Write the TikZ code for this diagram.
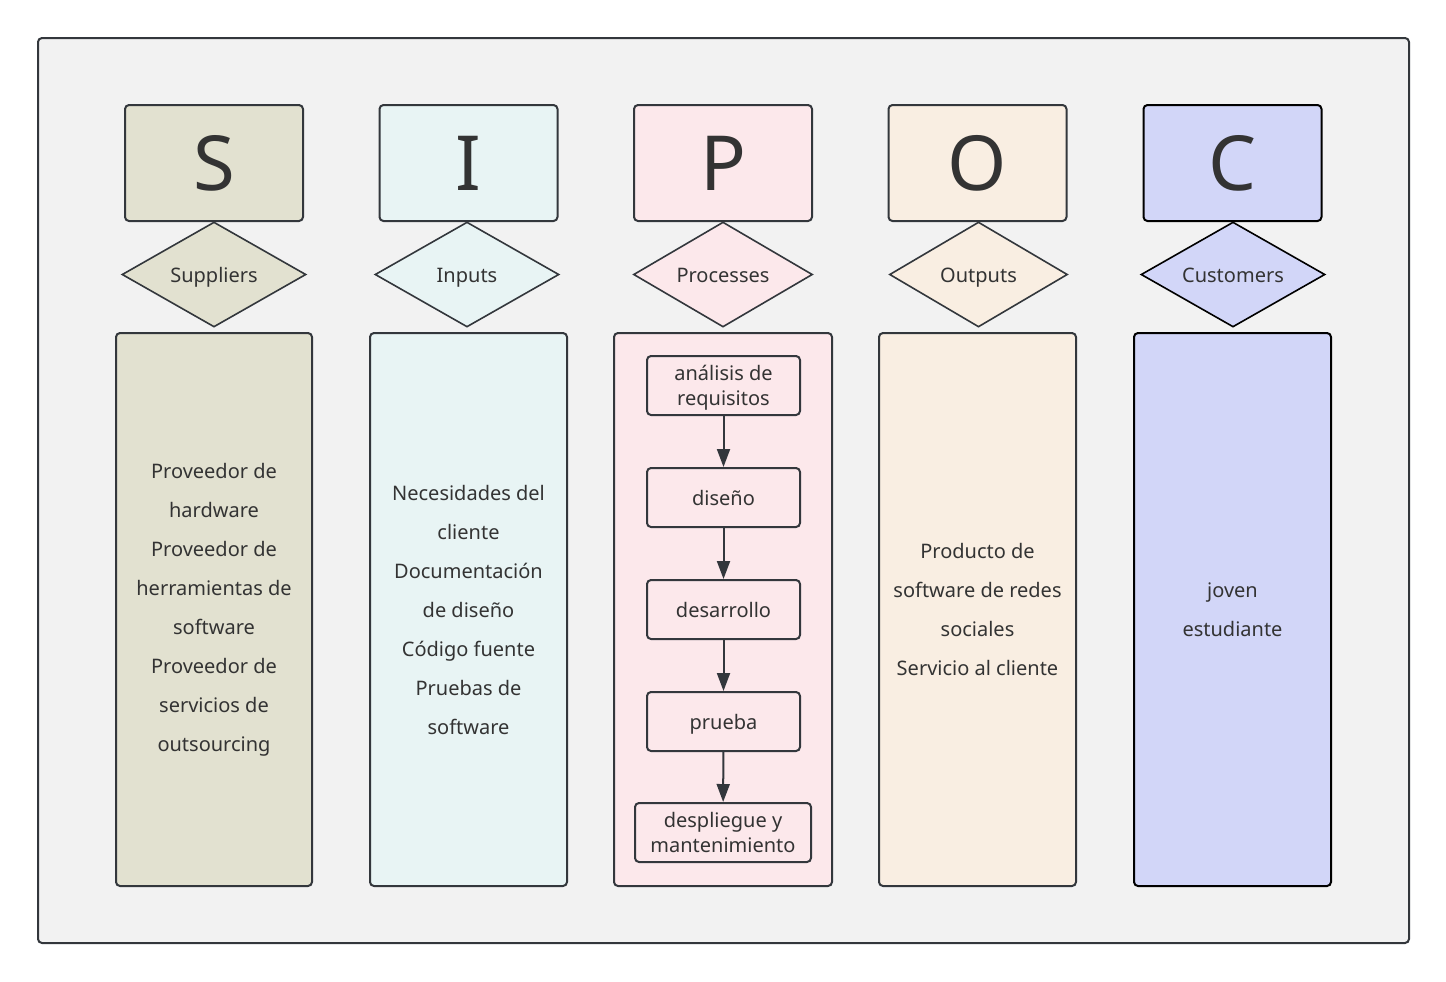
\documentclass[tikz,border=0pt]{standalone}
\usepackage{fontspec}
\setmainfont{Noto Sans}
\usetikzlibrary{shapes.geometric,arrows.meta}
\definecolor{edge}{RGB}{51,55,60}
\definecolor{ink}{RGB}{51,51,51}
\definecolor{bg}{RGB}{242,242,242}
\definecolor{cS}{RGB}{226,225,208}
\definecolor{cI}{RGB}{232,244,244}
\definecolor{cP}{RGB}{252,232,235}
\definecolor{cO}{RGB}{249,238,226}
\definecolor{cC}{RGB}{210,214,248}
\newcommand{\zw}[1]{\makebox[0pt]{#1}}
\tikzset{
  frame/.style={draw=edge,line width=1pt,fill=bg,rounded corners=2pt,minimum width=685.5pt,minimum height=452.5pt,inner sep=0pt},
  head/.style={draw=edge,line width=1pt,rounded corners=2pt,minimum width=89pt,minimum height=58pt,inner sep=0pt,text=ink,font=\fontsize{38}{40}\selectfont},
  dia/.style={diamond,draw=edge,line width=0.8pt,minimum width=92pt,minimum height=52.5pt,inner sep=0pt,text height=10pt,text depth=2pt,text=ink,font=\fontsize{10}{12}\selectfont},
  col/.style={draw=edge,line width=1pt,rounded corners=2pt,minimum width=98pt,minimum height=276.5pt,inner sep=0pt,text=ink,align=center,font=\fontsize{10}{19.5}\selectfont},
  stepbox/.style={draw=edge,line width=1pt,rounded corners=2pt,minimum width=76.5pt,minimum height=29.5pt,inner sep=0pt,text=ink,align=center,font=\fontsize{10}{12.5}\selectfont},
  oneline/.style={text height=9.8pt,text depth=2.2pt},
  twoline/.style={text height=23pt,text depth=2.6pt},
  flow/.style={draw=edge,line width=1pt,-{Triangle[length=9pt,width=6.5pt]}}
}
\begin{document}
\begin{tikzpicture}[x=0.5pt,y=-0.5pt]
\useasboundingbox (0,0) rectangle (1446,981);
\node[frame] (fr) at (723.5,490.5) {};
% headers
\node[head,fill=cS] (hS) at (214,163) {S};
\node[head,fill=cI] (hI) at (468.5,163) {I};
\node[head,fill=cP] (hP) at (723,163) {P};
\node[head,fill=cO] (hO) at (977.5,163) {O};
\node[head,fill=cC,draw=black] (hC) at (1232.5,163) {C};
% diamonds
\node[dia,fill=cS] (dS) at (214,274.5) {\zw{Suppliers}};
\node[dia,fill=cI] (dI) at (467,274.5) {\zw{Inputs}};
\node[dia,fill=cP,minimum width=89.5pt] (dP) at (723,274.5) {\zw{Processes}};
\node[dia,fill=cO,minimum width=89pt] (dO) at (978.5,274.5) {\zw{Outputs}};
\node[dia,fill=cC,draw=black] (dC) at (1233,274.5) {\zw{Customers}};
% columns
\node[col,fill=cS] (bS) at (214,609.5) {Proveedor de\\hardware\\Proveedor de\\herramientas de\\software\\Proveedor de\\servicios de\\outsourcing};
\node[col,fill=cI,minimum width=98.5pt] (bI) at (468.5,609.5) {Necesidades del\\cliente\\Documentación\\de diseño\\Código fuente\\Pruebas de\\software};
\node[col,fill=cP,minimum width=109pt] (bP) at (723,609.5) {};
\node[col,fill=cO,minimum width=98.5pt] (bO) at (977.5,609.5) {Producto de\\software de redes\\sociales\\Servicio al cliente};
\node[col,fill=cC,draw=black,minimum width=98.5pt] (bC) at (1232.5,609.5) {joven\\estudiante};
% process steps
\node[stepbox,twoline,fill=cP] (p1) at (723.5,385.5) {análisis de\\requisitos};
\node[stepbox,oneline,fill=cP] (p2) at (723.5,497.5) {diseño};
\node[stepbox,oneline,fill=cP] (p3) at (723.5,609.5) {desarrollo};
\node[stepbox,oneline,fill=cP] (p4) at (723.5,721.5) {prueba};
\node[stepbox,twoline,fill=cP,minimum width=88pt] (p5) at (723,832.5) {despliegue y\\mantenimiento};
\draw[flow] (p1) -- (p2);
\draw[flow] (p2) -- (p3);
\draw[flow] (p3) -- (p4);
\draw[flow] (p4) -- (p5);
\end{tikzpicture}
\end{document}
